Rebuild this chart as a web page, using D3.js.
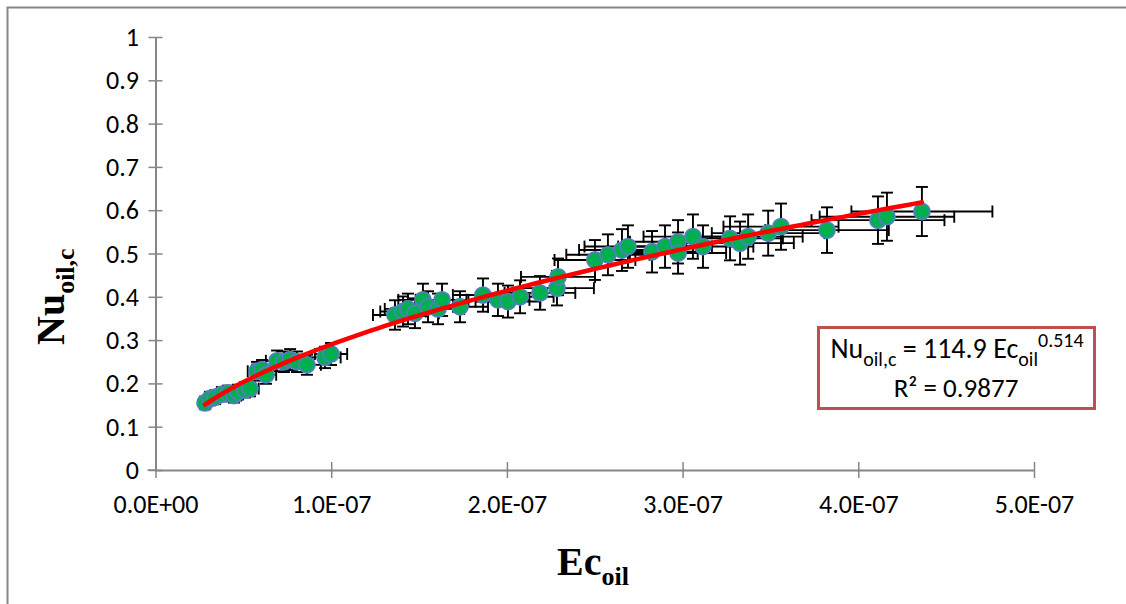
<!DOCTYPE html>
<html>
<head>
<meta charset="utf-8">
<script src="https://cdn.jsdelivr.net/npm/d3@7"></script>
<style>
  html, body { margin: 0; padding: 0; background: #fff; }
  svg { display: block; }
</style>
</head>
<body>
<svg id="chart" width="1126" height="604"></svg>
<script>
// ---------------- data ----------------
const ecOil = [
  0.282e-7, 0.310e-7, 0.339e-7, 0.378e-7, 0.413e-7, 0.447e-7, 0.470e-7, 0.509e-7, 0.538e-7,
  0.578e-7, 0.606e-7, 0.629e-7,
  0.692e-7, 0.731e-7, 0.766e-7, 0.805e-7, 0.862e-7, 0.965e-7, 0.999e-7,
  1.363e-7, 1.409e-7, 1.437e-7, 1.477e-7, 1.522e-7, 1.551e-7, 1.608e-7, 1.631e-7, 1.733e-7,
  1.864e-7, 1.949e-7, 2.006e-7, 2.075e-7, 2.188e-7, 2.285e-7, 2.291e-7,
  2.501e-7, 2.575e-7, 2.655e-7, 2.689e-7, 2.826e-7, 2.900e-7, 2.974e-7, 2.974e-7, 3.059e-7,
  3.116e-7, 3.270e-7, 3.327e-7, 3.373e-7, 3.487e-7, 3.560e-7,
  3.822e-7, 4.112e-7, 4.163e-7, 4.362e-7
];
const nuOil = [
  0.155, 0.165, 0.168, 0.175, 0.178, 0.172, 0.180, 0.185, 0.188,
  0.228, 0.232, 0.220,
  0.252, 0.250, 0.255, 0.250, 0.243, 0.260, 0.268,
  0.358, 0.366, 0.372, 0.362, 0.393, 0.377, 0.372, 0.393, 0.377,
  0.404, 0.393, 0.389, 0.400, 0.409, 0.420, 0.446,
  0.485, 0.497, 0.508, 0.516, 0.504, 0.516, 0.527, 0.501, 0.539,
  0.516, 0.535, 0.524, 0.539, 0.547, 0.562,
  0.554, 0.577, 0.585, 0.597
];
// error bars given as fractions of the value (percentage error bars)
const errFracX = 0.092;
const errFracY = 0.095;

// power trendline y = a * x^b (curve as plotted; printed label reads 114.9)
const trendA = 1149;
const trendB = 0.514;
const trendLabelCoef = "114.9";
const trendLabelExp = "0.514";
const trendR2 = "0.9877";

const xTicks = [0, 1e-7, 2e-7, 3e-7, 4e-7, 5e-7];
const xTickLabels = ["0.0E+00", "1.0E-07", "2.0E-07", "3.0E-07", "4.0E-07", "5.0E-07"];
const yTicks = [0, 0.1, 0.2, 0.3, 0.4, 0.5, 0.6, 0.7, 0.8, 0.9, 1];
const yTickLabels = ["0", "0.1", "0.2", "0.3", "0.4", "0.5", "0.6", "0.7", "0.8", "0.9", "1"];

// ---------------- drawing ----------------
const svg = d3.select("#chart");
const W = 1126, H = 604;
svg.append("rect").attr("width", W).attr("height", H).attr("fill", "#fff");

// outer chart frame
svg.append("rect")
  .attr("x", 7.5).attr("y", 7.5).attr("width", 1400).attr("height", 800)
  .attr("fill", "none").attr("stroke", "#868686").attr("stroke-width", 2);

const x = d3.scaleLinear().domain([0, 5e-7]).range([155.5, 1034]);
const y = d3.scaleLinear().domain([0, 1]).range([470, 37]);

const axisColor = "#868686";
const tickFont = "Carlito, Calibri, 'Liberation Sans', Arial, sans-serif";

// Y axis
const yAxis = svg.append("g")
  .attr("transform", `translate(${x(0)},0)`)
  .call(d3.axisLeft(y).tickValues(yTicks).tickFormat((d, i) => yTickLabels[i])
        .tickSizeInner(7).tickSizeOuter(0).tickPadding(9.5));
yAxis.select(".domain").attr("stroke", axisColor).attr("stroke-width", 2);
yAxis.selectAll(".tick line").attr("x1", -7).attr("x2", 7)
  .attr("stroke", axisColor).attr("stroke-width", 1.5);
yAxis.selectAll(".tick text").attr("font-family", tickFont).attr("font-size", 26)
  .attr("fill", "#000").attr("dy", "0.33em");

// X axis
const xAxis = svg.append("g")
  .attr("transform", `translate(0,${y(0)})`)
  .call(d3.axisBottom(x).tickValues(xTicks).tickFormat((d, i) => xTickLabels[i])
        .tickSizeInner(8).tickSizeOuter(0));
xAxis.select(".domain").attr("stroke", axisColor).attr("stroke-width", 2);
xAxis.selectAll(".tick line").attr("y1", -8).attr("y2", 8)
  .attr("stroke", axisColor).attr("stroke-width", 1.5);
xAxis.selectAll(".tick text").attr("font-family", tickFont).attr("font-size", 26)
  .attr("fill", "#000").attr("y", 43).attr("dy", null);

svg.append("line").attr("x1", x(0) - 8).attr("x2", x(0)).attr("y1", y(0)).attr("y2", y(0))
  .attr("stroke", axisColor).attr("stroke-width", 1.5);

const pts = ecOil.map((v, i) => ({ x: v, y: nuOil[i] }));

// error bars
const cap = 6;
const eb = svg.append("g").attr("stroke", "#000").attr("stroke-width", 1.9).attr("fill", "none");
pts.forEach(p => {
  const dx = p.x * errFracX, dy = p.y * errFracY;
  const cx = x(p.x), cy = y(p.y);
  eb.append("line").attr("x1", x(p.x - dx)).attr("x2", x(p.x + dx)).attr("y1", cy).attr("y2", cy);
  eb.append("line").attr("x1", x(p.x - dx)).attr("x2", x(p.x - dx)).attr("y1", cy - cap).attr("y2", cy + cap);
  eb.append("line").attr("x1", x(p.x + dx)).attr("x2", x(p.x + dx)).attr("y1", cy - cap).attr("y2", cy + cap);
  eb.append("line").attr("x1", cx).attr("x2", cx).attr("y1", y(p.y - dy)).attr("y2", y(p.y + dy));
  eb.append("line").attr("x1", cx - cap).attr("x2", cx + cap).attr("y1", y(p.y - dy)).attr("y2", y(p.y - dy));
  eb.append("line").attr("x1", cx - cap).attr("x2", cx + cap).attr("y1", y(p.y + dy)).attr("y2", y(p.y + dy));
});

// markers
svg.append("g").selectAll("circle").data(pts).join("circle")
  .attr("cx", d => x(d.x)).attr("cy", d => y(d.y)).attr("r", 8)
  .attr("fill", "#00B050").attr("stroke", "#4F81BD").attr("stroke-width", 1.8);

// trendline
const xmin = d3.min(ecOil), xmax = d3.max(ecOil);
const curve = d3.range(0, 101).map(i => {
  const xv = xmin + (xmax - xmin) * i / 100;
  return [xv, trendA * Math.pow(xv, trendB)];
});
svg.append("path").datum(curve)
  .attr("d", d3.line().x(d => x(d[0])).y(d => y(d[1])))
  .attr("fill", "none").attr("stroke", "#FF0000").attr("stroke-width", 4.5)
  .attr("stroke-linecap", "round");

// equation box
svg.append("rect").attr("x", 818.5).attr("y", 327.5).attr("width", 276).attr("height", 81)
  .attr("fill", "#fff").attr("stroke", "#C0504D").attr("stroke-width", 3);

const eq = svg.append("text").attr("x", 957).attr("y", 358)
  .attr("text-anchor", "middle").attr("font-family", tickFont).attr("font-size", 28).attr("fill", "#000");
eq.append("tspan").text("Nu");
eq.append("tspan").attr("font-size", 20).attr("dy", 8).text("oil,c");
eq.append("tspan").attr("dy", -8).text(` = ${trendLabelCoef} Ec`);
eq.append("tspan").attr("font-size", 20).attr("dy", 8).text("oil");
eq.append("tspan").attr("font-size", 20).attr("dy", -19).text(trendLabelExp);

svg.append("text").attr("x", 956).attr("y", 397)
  .attr("text-anchor", "middle").attr("font-family", tickFont).attr("font-size", 27).attr("fill", "#000")
  .text(`R² = ${trendR2}`);

// axis titles
const serif = "'Liberation Serif', 'Times New Roman', serif";
const xt = svg.append("text").attr("x", 557).attr("y", 575)
  .attr("font-family", serif).attr("font-weight", "bold").attr("font-size", 40).attr("fill", "#000");
xt.append("tspan").text("Ec");
xt.append("tspan").attr("font-size", 26).attr("dy", 10).text("oil");

const yt = svg.append("text").attr("transform", "translate(64,345) rotate(-90)")
  .attr("font-family", serif).attr("font-weight", "bold").attr("font-size", 40).attr("fill", "#000");
yt.append("tspan").text("Nu");
yt.append("tspan").attr("font-size", 26).attr("dy", 10).text("oil,c");
</script>
</body>
</html>
